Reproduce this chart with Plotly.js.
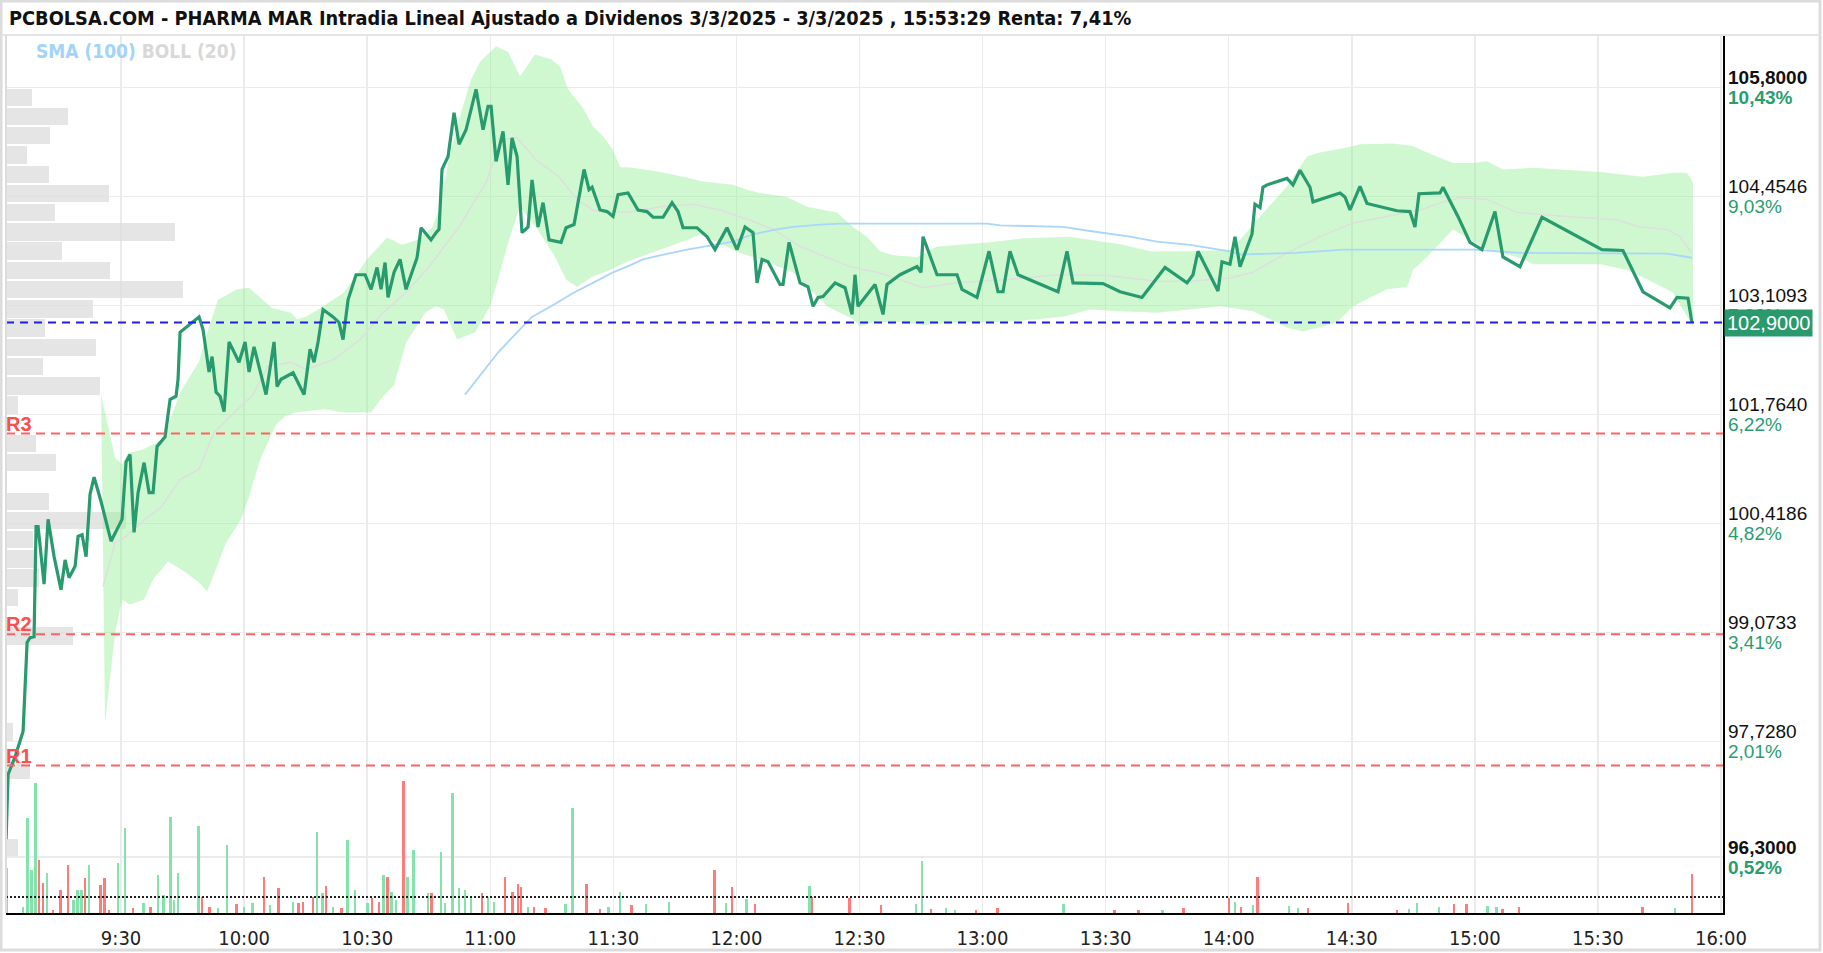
<!DOCTYPE html>
<html><head><meta charset="utf-8">
<script src="https://cdn.plot.ly/plotly-3.0.1.min.js"></script>
<style>html,body{margin:0;padding:0;background:#fff}#chart{width:1823px;height:953px}</style>
</head><body><div id="chart"></div><script>
// x values are session minutes after 9:00
const tickMinutes=[30,60,90,120,150,180,210,240,270,300,330,360,390,420];
const tickLabels=["9:30","10:00","10:30","11:00","11:30","12:00","12:30","13:00","13:30","14:00","14:30","15:00","15:30","16:00"];

const tickPrices=[105.8,104.4546,103.1093,101.764,100.4186,99.0733,97.728,96.3];
const priceLabels=["105,8000","104,4546","103,1093","101,7640","100,4186","99,0733","97,7280","96,3000"];
const pctLabels=["10,43%","9,03%","7,62%","6,22%","4,82%","3,41%","2,01%","0,52%"];

const priceMin=[1.97,2.46,4.16,6.11,7.09,7.82,8.79,9.28,9.77,11.23,12.21,13.67,15.37,16.35,17.32,18.79,19.52,20.49,21.47,22.44,23.42,25.12,27.56,30.24,31.22,32.19,33.17,34.14,35.61,36.83,37.80,38.78,40.73,41.46,41.94,43.41,43.89,44.38,49.01,49.99,51.45,52.18,53.16,54.13,55.11,56.33,58.76,60.23,61.20,62.42,65.34,67.29,68.03,69.00,71.93,74.61,76.07,77.04,78.02,79.24,81.68,83.14,84.11,85.33,87.28,89.48,90.94,92.40,93.38,94.35,95.08,96.54,98.01,99.47,100.44,102.15,103.13,105.56,106.78,107.51,108.24,109.71,111.17,112.39,114.09,116.53,118.24,119.46,120.19,121.41,123.11,124.33,125.31,126.53,127.74,129.21,130.18,131.64,132.86,134.33,137.25,138.47,140.42,142.86,144.08,144.81,146.76,148.46,149.93,151.14,153.58,156.02,158.21,159.68,162.11,164.31,165.77,166.99,170.40,172.84,174.79,177.71,180.15,182.10,184.05,185.03,186.24,187.71,190.63,191.36,192.83,195.51,197.46,198.68,199.90,201.11,204.04,206.48,208.18,208.91,209.64,213.79,215.74,216.71,219.88,224.03,225.00,225.49,228.90,233.78,234.99,238.65,241.58,243.77,244.99,246.69,248.64,258.39,260.59,262.05,269.36,273.51,278.87,284.48,289.84,291.30,292.52,297.39,298.37,300.32,301.54,302.76,305.68,306.41,307.63,308.36,309.34,314.21,315.68,317.38,319.82,320.55,327.13,328.35,329.57,332.01,333.71,341.03,344.19,345.41,346.39,351.51,352.24,355.89,358.82,361.74,364.91,366.86,371.01,376.37,390.99,396.11,400.99,407.57,409.28,411.96,412.93];
const price=[96.52,97.32,97.54,97.85,98.95,99.01,99.02,100.38,100.38,99.67,100.47,100.01,99.60,99.97,99.75,99.89,100.26,100.28,100.01,100.78,100.99,100.69,100.20,100.47,101.18,101.27,100.31,100.80,101.17,100.80,100.80,101.37,101.49,101.74,101.95,101.99,102.20,102.78,102.97,102.81,102.29,102.48,102.04,101.99,101.80,102.66,102.41,102.66,102.29,102.60,102.01,102.66,102.11,102.20,102.28,102.01,102.57,102.41,102.66,103.06,102.97,102.90,102.69,103.18,103.49,103.49,103.31,103.58,103.31,103.64,103.21,103.52,103.68,103.31,103.46,103.70,104.07,103.92,104.01,104.05,104.79,104.95,105.49,105.10,105.28,105.78,105.28,105.57,105.57,104.89,105.26,104.60,105.18,104.95,104.01,104.08,104.66,104.08,104.38,103.92,103.89,104.07,104.11,104.79,104.54,104.57,104.29,104.27,104.21,104.48,104.50,104.29,104.27,104.20,104.20,104.38,104.27,104.07,104.07,103.96,103.80,104.07,103.80,104.08,104.01,103.39,103.68,103.65,103.37,103.37,103.89,103.39,103.34,103.10,103.21,103.22,103.39,103.33,103.00,103.49,103.10,103.37,103.00,103.37,103.49,103.59,103.52,103.96,103.49,103.49,103.31,103.21,103.78,103.28,103.28,103.78,103.49,103.28,103.78,103.39,103.38,103.28,103.21,103.58,103.39,103.49,103.78,103.29,103.65,103.62,103.96,103.59,103.99,104.36,104.32,104.57,104.60,104.68,104.60,104.78,104.57,104.39,104.50,104.45,104.29,104.58,104.37,104.28,104.27,104.08,104.49,104.50,104.57,104.21,103.89,103.80,104.27,103.71,103.59,104.20,103.80,103.79,103.28,103.08,103.21,103.20,102.90];

const bollUpMin=[25.13,28.54,30.24,31.71,35.12,38.78,40.73,41.46,44.38,49.01,51.45,53.64,58.28,61.20,66.81,71.44,72.90,75.09,78.02,81.68,84.36,89.96,94.84,98.49,102.15,105.81,107.76,109.71,112.39,115.31,117.51,121.41,124.33,127.26,130.91,134.81,137.01,138.96,142.61,145.05,147.49,149.93,151.63,154.80,161.38,166.99,171.86,179.18,182.59,185.76,192.34,197.21,204.53,208.43,211.84,215.01,218.18,224.03,228.90,241.82,249.87,261.32,266.19,274.24,280.82,290.57,300.32,302.76,307.61,314.21,319.09,322.26,328.84,332.01,340.05,344.93,348.34,354.68,359.56,362.97,366.87,374.18,390.51,400.99,408.30,411.71,413.17];
const bollUp=[102.01,101.23,101.15,101.29,101.33,101.42,101.49,101.62,102.04,102.42,102.85,103.18,103.31,103.33,103.08,103.02,102.94,102.97,103.06,103.18,103.27,103.68,103.95,103.86,103.92,104.07,104.33,104.87,105.41,105.90,106.12,106.31,106.24,105.94,106.21,106.15,106.06,105.78,105.55,105.32,105.20,105.03,104.82,104.81,104.76,104.70,104.64,104.60,104.54,104.50,104.45,104.33,104.26,104.08,103.96,103.78,103.73,103.71,103.84,103.89,103.94,103.96,103.92,103.86,103.78,103.78,103.80,103.92,104.21,104.58,104.95,105.00,105.06,105.10,105.11,105.08,105.00,104.87,104.87,104.89,104.79,104.81,104.76,104.70,104.75,104.75,104.63];
const bollLowMin=[26.10,28.54,30.24,32.19,35.61,37.80,41.46,45.36,49.01,50.96,52.18,55.59,59.25,61.20,63.88,67.78,69.97,72.41,79.72,84.36,90.94,93.86,96.54,99.47,104.10,106.78,108.73,111.90,116.29,119.94,121.89,124.58,127.26,131.5,135.79,138.47,141.15,145.05,149.19,153.34,161.38,167.96,171.13,180.88,185.76,193.80,198.68,202.09,208.43,210.13,213.30,219.88,225.49,233.78,245.96,259.61,266.19,273.51,282.53,290.57,297.89,305.93,314.21,318.11,326.40,330.30,338.59,343.46,344.93,348.34,354.68,358.82,362.97,371.01,374.18,390.51,397.09,400.99,408.30,413.17];
const bollLow=[97.96,99.07,99.48,99.42,99.48,99.73,99.95,99.83,99.69,99.58,99.73,100.18,100.47,100.75,101.21,101.64,101.74,101.79,101.83,101.79,101.79,101.99,102.13,102.65,103.02,103.10,103.06,102.69,102.78,103.10,103.43,103.92,104.33,104.05,103.71,103.43,103.34,103.47,103.55,103.65,103.80,103.92,103.99,103.76,103.68,103.52,103.27,103.10,102.94,102.85,102.90,102.91,102.87,102.90,102.91,102.97,103.06,103.04,103.02,103.06,103.10,103.04,102.84,102.79,102.90,103.10,103.31,103.34,103.55,103.71,104.05,103.92,103.80,103.70,103.62,103.62,103.55,103.46,103.27,102.85];
const bollMidMin=[25.61,28.54,31.22,35.85,39.75,44.38,49.01,52.67,56.57,62.18,65.83,71.44,75.09,81.68,88.26,93.86,99.47,105.08,112.39,118.97,122.63,126.53,131.16,136.77,141.15,145.05,153.34,161.38,169.43,176.01,184.05,188.93,195.51,202.09,207.69,214.28,219.88,225.49,233.78,245.96,258.15,270.34,282.53,290.57,300.32,305.93,314.21,322.26,330.30,338.59,346.63,352.24,356.38,362.97,370.28,382.47,394.66,400.27,406.84,410.01,412.93];
const bollMid=[99.64,100.18,100.26,100.47,100.62,100.96,101.09,101.54,101.74,102.01,102.36,102.41,102.32,102.44,102.69,103.02,103.27,103.59,104.08,104.63,105.16,105.18,104.91,104.70,104.42,104.29,104.26,104.33,104.36,104.29,104.15,104.05,103.84,103.71,103.59,103.52,103.43,103.33,103.39,103.43,103.49,103.48,103.41,103.41,103.45,103.52,103.76,103.96,104.13,104.21,104.29,104.39,104.44,104.42,104.26,104.21,104.17,104.08,104.05,103.96,103.76];
const smaMin=[113.85,117.99,121.89,126.53,130.18,134.81,140.42,145.05,149.93,153.34,157.24,161.38,167.96,173.57,179.18,184.05,189.90,193.80,200.38,205.26,219.88,241.09,244.26,259.61,266.19,270.34,275.94,282.53,290.57,300.32,302.76,316.65,327.86,338.59,359.56,371.01,406.84,412.93];
const sma=[102.01,102.28,102.53,102.78,102.97,103.10,103.27,103.39,103.52,103.59,103.68,103.73,103.80,103.85,103.90,103.99,104.05,104.08,104.11,104.12,104.12,104.12,104.10,104.08,104.03,104.00,103.96,103.90,103.86,103.78,103.74,103.76,103.80,103.80,103.80,103.76,103.75,103.70];

const volMin=[2.19,6.11,7.23,8.21,9.18,10.01,11.01,11.99,13.38,15.20,17.01,18.42,19.40,20.37,21.23,22.20,25.00,25.98,27.10,29.20,31.00,32.97,35.48,37.17,38.99,40.38,42.07,42.90,43.89,48.91,49.77,51.57,53.67,55.79,58.15,59.98,62.08,64.88,66.27,68.37,71.88,73.27,74.39,76.78,77.75,79.14,79.99,81.68,83.77,85.16,86.99,90.06,91.18,92.86,93.98,94.96,95.93,97.06,98.88,99.86,101.25,104.76,105.71,107.98,108.95,110.78,112.44,113.85,115.24,118.04,119.46,120.85,123.65,125.45,126.72,127.52,129.23,130.64,133.44,138.32,140.00,143.51,146.73,148.83,151.63,154.43,157.92,163.53,174.71,177.52,178.91,182.42,184.51,197.80,198.49,207.59,215.29,223.80,225.26,227.46,231.11,233.33,238.45,243.60,259.71,272.17,278.04,283.89,289.03,300.02,301.49,302.95,305.88,307.05,314.68,316.87,319.36,329.03,341.05,344.00,345.90,351.31,354.99,357.92,363.04,365.26,366.72,370.81,400.87,408.79,412.89];
const volume=[4500,600,9500,4300,13000,5300,3000,4000,300,2300,4800,1300,2300,2300,3500,4800,2800,3500,300,5000,8500,500,1000,600,3800,1800,9600,1300,4000,8700,1600,600,500,6800,900,600,1000,3600,800,2500,1100,1000,1100,1600,8100,2000,2700,600,500,7300,2300,1000,1500,1100,3800,3600,2100,1300,13200,3600,6300,2000,2000,6100,1000,12000,2500,2300,1600,2000,1600,1100,3600,2100,2900,2600,600,600,500,900,10500,2900,400,600,2100,800,900,1100,4300,1000,2600,1400,900,2700,1600,1500,800,900,5200,400,500,300,300,500,900,300,300,300,500,1500,1100,600,800,3600,700,500,500,1000,300,400,1000,600,900,900,700,600,400,600,600,500,3900];
const volSide=["G","G","G","G","G","R","R","G","R","R","R","G","G","G","R","G","R","R","R","G","G","R","G","R","G","G","G","G","G","G","R","R","G","G","R","G","G","R","G","R","G","R","R","R","G","G","R","G","R","G","G","G","R","R","G","R","G","G","R","G","G","G","R","G","G","G","G","G","G","R","G","G","R","R","R","R","G","R","R","G","G","R","R","G","G","R","G","G","R","G","R","G","R","G","R","R","R","G","G","R","G","G","R","R","G","R","R","G","R","R","G","R","G","R","G","G","R","R","R","G","G","G","R","R","G","G","R","R","R","G","R"];
const volAverage=1600;

const profilePrice=[105.681,105.444,105.206,104.969,104.731,104.494,104.256,104.019,103.781,103.544,103.306,103.069,102.831,102.594,102.356,102.119,101.881,101.406,101.169,100.694,100.456,100.219,99.981,99.744,99.506,99.031,97.844,97.369,96.419];
const profileVol=[26,62,44,21,43,103,49,169,56,104,177,87,39,90,37,94,12,30,50,43,120,27,28,33,12,67,7,24,12];

const levelNames=["R1","R2","R3"];
const levelPrices=[97.43,99.05,101.53];
const lastPrice=102.9;
const lastLabel="102,9000";

const X0=1.95, X1=420.5, Y0=95.61, Y1=106.45;
const PLOT_W=1717;
const narrow="DejaVu Sans Condensed, Liberation Sans Narrow, sans-serif";
const sans="Liberation Sans, Arial, sans-serif";
const green="#279a6e";

const profScale=(X1-X0)/PLOT_W;
const traces=[
 {type:"bar",orientation:"h",y:profilePrice,x:profileVol.map(v=>v*profScale),base:X0,width:0.215,
  marker:{color:"rgba(222,222,222,0.8)"},hoverinfo:"skip",showlegend:false},
 {type:"scatter",mode:"lines",x:bollUpMin.concat(bollLowMin.slice().reverse()),y:bollUp.concat(bollLow.slice().reverse()),
  fill:"toself",fillcolor:"rgba(150,240,150,0.45)",line:{width:0},hoverinfo:"skip",showlegend:false},
 {type:"scatter",mode:"lines",x:bollMidMin,y:bollMid,line:{color:"#dedede",width:1.5},hoverinfo:"skip",showlegend:false},
 {type:"scatter",mode:"lines",x:smaMin,y:sma,line:{color:"#a9d6fb",width:1.8},hoverinfo:"skip",showlegend:false},
 {type:"scatter",mode:"lines",x:priceMin,y:price,line:{color:green,width:3.2},showlegend:false},
 {type:"bar",x:volMin,y:volume,yaxis:"y2",width:0.6,
  marker:{color:volSide.map(s=>s==="G"?"#86e2ad":"#ff7a7a")},showlegend:false}
];

const px2xp=px=>(px-6)/PLOT_W;
const py2yp=py=>(913-py)/878;

const shapes=[];
levelPrices.forEach(p=>shapes.push({type:"line",xref:"paper",yref:"y",x0:0,x1:1,y0:p,y1:p,layer:"above",
  line:{color:"#ff6262",width:2,dash:"9px,6px"}}));
shapes.push({type:"line",xref:"paper",yref:"y",x0:0,x1:1,y0:lastPrice,y1:lastPrice,layer:"above",
  line:{color:"#1f1fe8",width:2,dash:"8px,6px"}});
shapes.push({type:"line",xref:"paper",yref:"y2",x0:0,x1:1,y0:volAverage,y1:volAverage,layer:"above",
  line:{color:"#222",width:2,dash:"2px,2px"}});
// frame
shapes.push({type:"rect",xref:"paper",yref:"paper",x0:px2xp(1),x1:px2xp(1820),y0:py2yp(950),y1:py2yp(1),
  line:{color:"#dcdcdc",width:3},layer:"below"});
shapes.push({type:"line",xref:"paper",yref:"paper",x0:px2xp(1),x1:px2xp(1820),y0:1,y1:1,line:{color:"#e4e4e4",width:2}});
shapes.push({type:"line",xref:"paper",yref:"paper",x0:0,x1:0,y0:0,y1:1,line:{color:"#dcdcdc",width:2}});

const annotations=[];
tickPrices.forEach((p,i)=>{
  const bold=(i===0||i===tickPrices.length-1);
  annotations.push({xref:"paper",yref:"y",x:1,y:p,xanchor:"left",yanchor:"middle",xshift:3,yshift:10,showarrow:false,
    text:bold?"<b>"+priceLabels[i]+"</b>":priceLabels[i],font:{family:sans,size:19,color:"#111"}});
  annotations.push({xref:"paper",yref:"y",x:1,y:p,xanchor:"left",yanchor:"middle",xshift:3,yshift:-10,showarrow:false,
    text:bold?"<b>"+pctLabels[i]+"</b>":pctLabels[i],font:{family:sans,size:19,color:"#2a9d6f"}});
});
annotations.push({xref:"paper",yref:"y",x:1,y:lastPrice,xanchor:"left",yanchor:"middle",xshift:1,showarrow:false,
  text:lastLabel,bgcolor:"#2a9a6d",borderpad:2,font:{family:sans,size:20,color:"#fff"}});
levelNames.forEach((n,i)=>annotations.push({xref:"paper",yref:"y",x:0,y:levelPrices[i],xanchor:"left",yanchor:"bottom",
  xshift:-2,yshift:-3,showarrow:false,text:"<b>"+n+"</b>",font:{family:sans,size:20,color:"#ff4d4d"}}));
annotations.push({xref:"paper",yref:"paper",x:px2xp(34),y:py2yp(51),xanchor:"left",yanchor:"middle",showarrow:false,
  text:"<b><span style='color:#a3d3fa'>SMA (100)</span> <span style='color:#d8d8d8'>BOLL (20)</span></b>",
  font:{family:narrow,size:19}});

const layout={
  width:1823,height:953,margin:{l:6,r:100,t:35,b:40},
  paper_bgcolor:"#fff",plot_bgcolor:"#fff",showlegend:false,bargap:0,
  title:{text:"<b>PCBOLSA.COM - PHARMA MAR Intradia Lineal Ajustado a Dividenos 3/3/2025 - 3/3/2025 , 15:53:29 Renta: 7,41%</b>",
    xref:"container",yref:"container",x:9/1823,xanchor:"left",y:1-18/953,yanchor:"middle",
    font:{family:narrow,size:19.8,color:"#111"}},
  xaxis:{range:[X0,X1],tickvals:tickMinutes,ticktext:tickLabels,showgrid:true,gridcolor:"#ebebeb",gridwidth:1.5,
    zeroline:false,showline:true,linecolor:"#000",linewidth:2,ticks:"",ticklabelstandoff:6,
    tickfont:{family:narrow,size:20,color:"#222"},fixedrange:true},
  yaxis:{range:[Y0,Y1],side:"right",tickvals:tickPrices,showticklabels:false,showgrid:true,gridcolor:"#ebebeb",gridwidth:1.5,
    zeroline:false,showline:true,linecolor:"#000",linewidth:2,ticks:"",fixedrange:true},
  yaxis2:{overlaying:"y",range:[0,87800],visible:false,fixedrange:true},
  shapes:shapes,annotations:annotations
};
Plotly.newPlot("chart",traces,layout,{displayModeBar:false,staticPlot:true});
</script></body></html>
